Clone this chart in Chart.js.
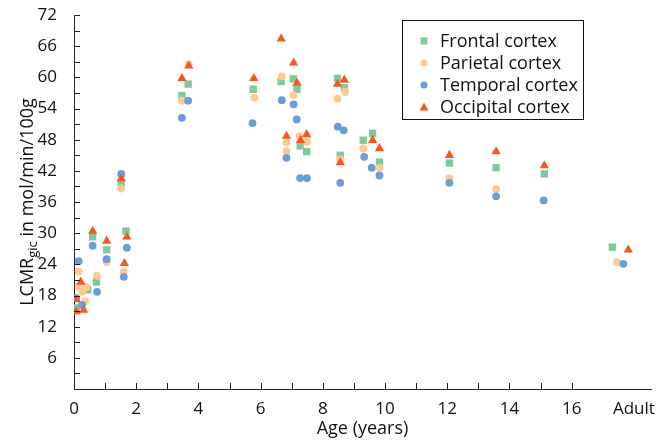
<!DOCTYPE html>
<html>
<head>
<meta charset="utf-8">
<script src="https://cdn.jsdelivr.net/npm/chart.js@4.4.1/dist/chart.umd.min.js"></script>
<style>
  html, body { margin: 0; padding: 0; background: #fff; }
  #wrap { width: 662px; height: 443px; position: relative; }
</style>
</head>
<body>
<div id="wrap"><canvas id="c"></canvas></div>
<script>
// ---- Data ----
const seriesNames = ['Frontal cortex', 'Parietal cortex', 'Temporal cortex', 'Occipital cortex'];

const frontalAge = [0.07, 0.44, 0.6, 0.72, 1.05, 1.52, 1.67, 3.47, 3.67, 5.76, 6.66, 7.05, 7.17, 7.27, 7.48, 8.47, 8.56, 8.69, 9.3, 9.6, 9.82, 12.07, 13.57, 15.12, 17.31];
const frontalVal = [15.6, 19.1, 29.3, 20.6, 26.8, 39.6, 30.4, 56.5, 58.7, 57.7, 59.2, 59.7, 57.7, 46.8, 45.7, 59.8, 45.0, 58.0, 47.9, 49.2, 43.7, 43.5, 42.6, 41.4, 27.3];

const parietalAge = [0.15, 0.15, 0.26, 0.39, 0.36, 0.74, 1.05, 1.52, 1.6, 3.47, 3.69, 5.8, 6.68, 6.83, 6.83, 7.06, 7.25, 7.49, 8.47, 8.56, 8.71, 9.3, 9.82, 12.07, 13.57, 17.46];
const parietalVal = [22.6, 19.7, 18.7, 19.6, 16.9, 21.8, 24.4, 38.6, 22.6, 55.5, 62.5, 56.1, 60.2, 47.5, 45.8, 56.6, 48.7, 47.6, 55.9, 44.2, 57.2, 46.3, 42.6, 40.6, 38.5, 24.4];

const temporalAge = [0.07, 0.15, 0.26, 0.6, 0.74, 1.05, 1.52, 1.6, 1.7, 3.47, 3.67, 5.74, 6.68, 6.83, 7.06, 7.16, 7.27, 7.49, 8.48, 8.56, 8.67, 9.33, 9.57, 9.82, 12.07, 13.57, 15.1, 17.66];
const temporalVal = [17.5, 24.6, 16.2, 27.6, 18.7, 25.0, 41.4, 21.6, 27.2, 52.2, 55.5, 51.2, 55.6, 44.5, 54.8, 51.9, 40.6, 40.6, 50.5, 39.7, 49.8, 44.7, 42.6, 41.1, 39.7, 37.1, 36.3, 24.1];

const occipitalAge = [0.07, 0.07, 0.22, 0.31, 0.6, 1.05, 1.52, 1.62, 1.7, 3.47, 3.69, 5.78, 6.66, 6.83, 7.06, 7.17, 7.28, 7.48, 8.47, 8.56, 8.69, 9.6, 9.82, 12.07, 13.57, 15.12, 17.82];
const occipitalVal = [17.2, 14.9, 20.6, 15.2, 30.4, 28.5, 40.5, 24.2, 29.3, 59.8, 62.2, 59.8, 67.4, 48.7, 62.8, 58.9, 47.9, 49.0, 58.7, 43.6, 59.5, 47.9, 46.3, 45.0, 45.7, 43.0, 26.8];

const xTickValues = [0, 2, 4, 6, 8, 10, 12, 14, 16, 18];
const xTickLabels = ['0', '2', '4', '6', '8', '10', '12', '14', '16', 'Adult'];
const xMinorTicks = [0, 1, 2, 3, 4, 5, 6, 7, 8, 9, 10, 11, 12, 13, 14, 15, 16];
const yMinorTicks = [3, 6, 9, 12, 15, 18, 21, 24, 27, 30, 33, 36, 39, 42, 45, 48, 51, 54, 57, 60, 63, 66, 69, 72];

// ---- Styling ----
const FONT = "'Open Sans', 'Noto Sans', sans-serif";
const colors = ['#7fc99b', '#fdca94', '#6d9dd8', '#f05a22'];
const shapes = ['rect', 'circle', 'circle', 'triangle'];
const radii = [5.2, 3.9, 3.9, 5.4];

function pts(xs, ys) { return xs.map((x, i) => ({ x: x, y: ys[i] })); }
const allData = [pts(frontalAge, frontalVal), pts(parietalAge, parietalVal), pts(temporalAge, temporalVal), pts(occipitalAge, occipitalVal)];

const datasets = allData.map((d, i) => ({
  label: seriesNames[i],
  data: d,
  pointStyle: shapes[i],
  pointRadius: radii[i],
  pointHoverRadius: radii[i],
  backgroundColor: colors[i],
  borderColor: colors[i],
  borderWidth: 0,
  order: 4 - i
}));

const innerTicks = {
  id: 'innerTicks',
  afterDatasetsDraw(chart) {
    const ctx = chart.ctx, xs = chart.scales.x, ys = chart.scales.y, a = chart.chartArea;
    ctx.save();
    ctx.strokeStyle = '#222';
    ctx.lineWidth = 1;
    ctx.beginPath();
    xMinorTicks.forEach(v => {
      const px = Math.round(xs.getPixelForValue(v)) + 0.5;
      ctx.moveTo(px, a.bottom); ctx.lineTo(px, a.bottom - 6);
    });
    yMinorTicks.forEach(v => {
      const py = Math.round(ys.getPixelForValue(v)) + 0.5;
      ctx.moveTo(a.left, py); ctx.lineTo(a.left + 6, py);
    });
    ctx.stroke();
    ctx.restore();
  }
};

const yTitle = {
  id: 'yTitle',
  afterDraw(chart) {
    const ctx = chart.ctx, a = chart.chartArea;
    const cy = (a.top + a.bottom) / 2;
    const mainFont = '18px ' + FONT, subFont = '13px ' + FONT;
    const t1 = 'LCMR', ts = 'gic', t2 = ' in mol/min/100g';
    ctx.save();
    ctx.fillStyle = '#111';
    ctx.textBaseline = 'alphabetic';
    ctx.font = mainFont; const w1 = ctx.measureText(t1).width; const w2 = ctx.measureText(t2).width;
    ctx.font = subFont; const ws = ctx.measureText(ts).width;
    const total = w1 + ws + w2;
    ctx.translate(33, cy);
    ctx.rotate(-Math.PI / 2);
    let x0 = -total / 2;
    ctx.font = mainFont; ctx.fillText(t1, x0, 0);
    ctx.font = subFont; ctx.fillText(ts, x0 + w1, 4);
    ctx.font = mainFont; ctx.fillText(t2, x0 + w1 + ws, 0);
    ctx.restore();
  }
};

const boxLegend = {
  id: 'boxLegend',
  afterDraw(chart) {
    const ctx = chart.ctx;
    const bx = 402, by = 20, bw = 181, bh = 99;
    ctx.save();
    ctx.strokeStyle = '#111';
    ctx.lineWidth = 1;
    ctx.fillStyle = '#fff';
    ctx.fillRect(bx, by, bw, bh);
    ctx.strokeRect(bx + 0.5, by + 0.5, bw, bh);
    chart.data.datasets.forEach((ds, i) => {
      const cy = by + 21 + i * 22;
      const mx = 424;
      ctx.fillStyle = ds.backgroundColor;
      ctx.beginPath();
      if (ds.pointStyle === 'rect') {
        ctx.fillRect(mx - 3.5, cy - 3.5, 7, 7);
      } else if (ds.pointStyle === 'circle') {
        ctx.arc(mx, cy, 3.5, 0, Math.PI * 2); ctx.fill();
      } else {
        ctx.moveTo(mx, cy - 4.5); ctx.lineTo(mx + 4.5, cy + 3.5); ctx.lineTo(mx - 4.5, cy + 3.5); ctx.closePath(); ctx.fill();
      }
      ctx.fillStyle = '#111';
      ctx.font = '18px ' + FONT;
      ctx.textBaseline = 'middle';
      ctx.fillText(ds.label, 440, cy + 1);
    });
    ctx.restore();
  }
};

new Chart(document.getElementById('c'), {
  type: 'scatter',
  data: { datasets: datasets },
  plugins: [innerTicks, yTitle, boxLegend],
  options: {
    responsive: true,
    maintainAspectRatio: false,
    animation: false,
    layout: { padding: { left: 0, top: 15, right: 11, bottom: 0 } },
    plugins: { legend: { display: false }, tooltip: { enabled: false } },
    scales: {
      x: {
        type: 'linear', min: 0, max: 18.55,
        grid: { display: false },
        border: { display: true, color: '#222', width: 1 },
        afterBuildTicks: s => { s.ticks = xTickValues.map(v => ({ value: v })); },
        afterFit: s => { s.height = 54; s.paddingLeft = 0; s.paddingRight = 0; },
        ticks: {
          autoSkip: false, maxRotation: 0, padding: 2, color: '#111',
          font: { family: FONT, size: 17 },
          callback: (v) => { const k = xTickValues.indexOf(v); return k >= 0 ? xTickLabels[k] : ''; }
        },
        title: { display: true, text: 'Age (years)', color: '#111', font: { family: FONT, size: 18 }, padding: { top: 0, bottom: 3 } }
      },
      y: {
        type: 'linear', min: 0, max: 72,
        grid: { display: false },
        border: { display: true, color: '#222', width: 1 },
        afterFit: s => { s.width = 74; s.paddingTop = 0; s.paddingBottom = 0; },
        ticks: {
          stepSize: 6, padding: 9, color: '#111',
          font: { family: FONT, size: 17 },
          callback: v => v === 0 ? '' : v
        }
      }
    }
  }
});
</script>
</body>
</html>
